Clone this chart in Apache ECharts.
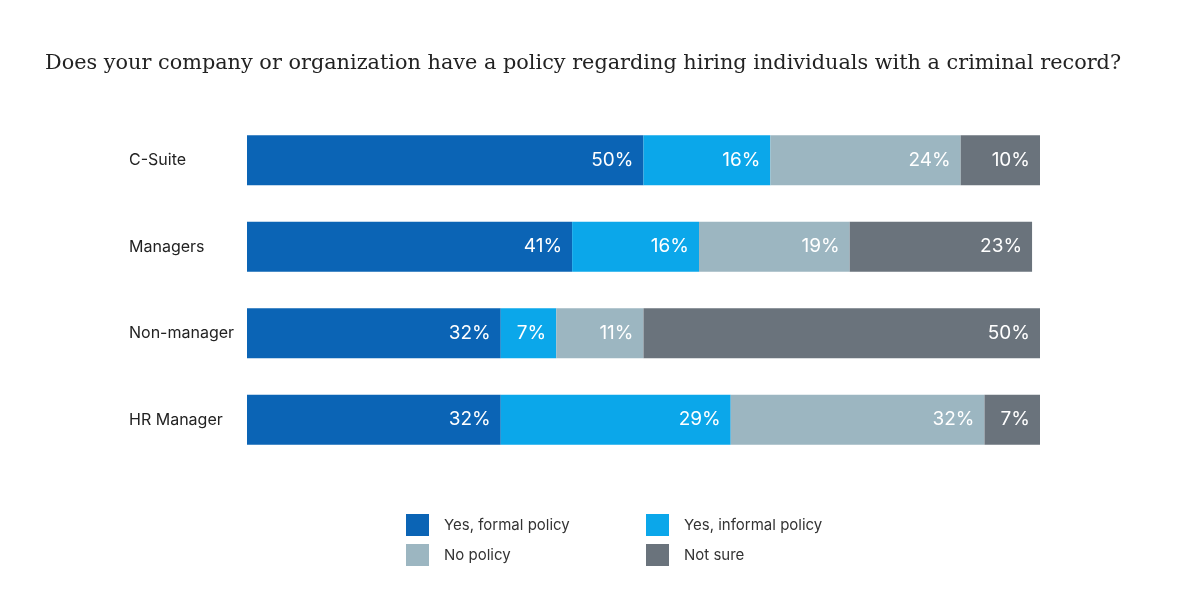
<!DOCTYPE html>
<html><head><meta charset="utf-8">
<script src="https://cdn.jsdelivr.net/npm/echarts@6/dist/echarts.min.js"></script>
<style>html,body{margin:0;background:#fff}#c{width:1200px;height:600px}</style>
</head><body><div id="c"></div>
<script>
const categories = ['C-Suite','Managers','Non-manager','HR Manager'];
const formal = [50,41,32,32];
const informal = [16,16,7,29];
const noPolicy = [24,19,11,32];
const notSure = [10,23,50,7];
const names = ['Yes, formal policy','Yes, informal policy','No policy','Not sure'];
const colors = ['#0b64b5','#0ba7ea','#9cb6c1','#6a737c'];
const data = [formal, informal, noPolicy, notSure];
const chart = echarts.init(document.getElementById('c'));
const legendPos = [[401,509],[641,509],[401,539],[641,539]];
chart.setOption({
  animation:false,
  title:{text:'Does your company or organization have a policy regarding hiring individuals with a criminal record?',
    left:40, top:48, textStyle:{fontFamily:'DejaVu Serif',fontWeight:'normal',fontSize:20.8,color:'#222'}},
  legend: legendPos.map((p,i)=>({data:[names[i]],left:p[0],top:p[1],itemWidth:23,itemHeight:22,itemGap:0,
    icon:'rect',textStyle:{fontFamily:'Inter',fontSize:15,color:'#333',padding:[0,0,0,10]}})),
  grid:{left:247,right:160,top:117,bottom:137},
  xAxis:{type:'value',min:0,max:100,show:false},
  yAxis:{type:'category',data:categories,inverse:true,axisLine:{show:false},axisTick:{show:false},
    axisLabel:{align:'left',margin:118,fontFamily:'Inter',fontSize:16,color:'#222'}},
  series: data.map((d,i)=>({name:names[i],type:'bar',stack:'s',barWidth:50,data:d,
    itemStyle:{color:colors[i]},
    label:{show:true,position:'insideRight',distance:10,formatter:'{c}%',color:'#fff',fontFamily:'Inter',fontSize:19}}))
});
</script></body></html>
